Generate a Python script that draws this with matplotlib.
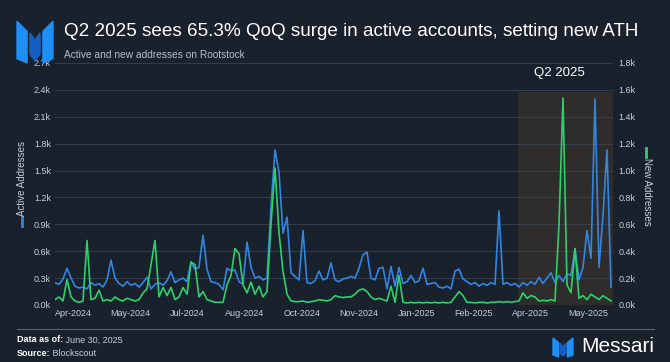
import numpy as np
import matplotlib
matplotlib.use("Agg")
import matplotlib.pyplot as plt
from matplotlib.patches import Polygon

plt.rcParams['font.family'] = ['Liberation Sans', 'DejaVu Sans']

# daily-ish samples (Active = left axis, New = right axis)
active = [250, 230, 290, 410, 300, 210, 190, 200, 180, 250,
          220, 240, 200, 280, 500, 300, 240, 210, 260, 220,
          240, 200, 250, 310, 180, 230, 250, 220, 270, 370,
          250, 280, 300, 260, 480, 400, 420, 780, 400, 260,
          250, 230, 170, 410, 380, 390, 260, 230, 700, 420,
          300, 320, 280, 300, 1100, 1730, 1480, 800, 980, 360,
          320, 280, 830, 250, 240, 270, 380, 280, 300, 470,
          280, 260, 290, 300, 320, 300, 410, 560, 590, 300,
          280, 410, 420, 180, 430, 210, 420, 240, 260, 330,
          250, 270, 410, 230, 240, 250, 200, 190, 210, 180,
          380, 400, 290, 260, 230, 250, 210, 240, 220, 250,
          230, 1050, 230, 250, 220, 240, 200, 250, 220, 260,
          230, 310, 240, 300, 360, 250, 330, 260, 350, 330,
          630, 280, 420, 830, 520, 2300, 420, 1000, 1730, 200]
new = [40, 60, 30, 190, 60, 30, 20, 30, 480, 40,
       50, 110, 30, 40, 30, 60, 40, 30, 50, 40,
       30, 40, 90, 120, 300, 480, 60, 130, 70, 130,
       40, 60, 130, 80, 320, 300, 60, 100, 40, 30,
       20, 20, 20, 150, 220, 420, 380, 150, 90, 170,
       80, 140, 60, 100, 600, 1020, 540, 250, 80, 30,
       25, 25, 30, 20, 25, 30, 40, 35, 30, 40,
       70, 60, 55, 60, 60, 80, 110, 120, 100, 60,
       40, 50, 40, 30, 140, 20, 220, 20, 15, 20,
       15, 20, 15, 20, 15, 20, 15, 20, 15, 20,
       60, 100, 70, 20, 20, 15, 20, 20, 15, 20,
       20, 25, 20, 25, 20, 25, 30, 90, 50, 70,
       60, 30, 35, 30, 40, 30, 600, 1540, 150, 90,
       420, 50, 70, 40, 80, 60, 40, 70, 50, 30]

month_labels = ['Apr-2024', 'May-2024', 'Jul-2024', 'Aug-2024', 'Oct-2024',
                'Nov-2024', 'Jan-2025', 'Feb-2025', 'Apr-2025', 'May-2025']
left_ticks = [0, 300, 600, 900, 1200, 1500, 1800, 2100, 2400, 2700]
right_ticks = [0, 200, 400, 600, 800, 1000, 1200, 1400, 1600, 1800]
q2_start = 115.75

BG = '#19212d'
BLUE = '#3385e0'
GREEN = '#2bd16b'
TXT = '#c9ced6'
W, H = 670, 362


def fx(px):
    return px / W


def fy(py):
    return 1 - py / H


fig = plt.figure(figsize=(6.7, 3.62), dpi=100, facecolor=BG)

ax = fig.add_axes([fx(55), fy(305), fx(558), 242 / H])
ax.set_facecolor('none')
x = np.arange(len(active))
ax.axvspan(q2_start, len(active) - 0.5, ymax=0.88, color='#a8692c', alpha=0.16, lw=0, zorder=0)
ax.plot(x, active, color=BLUE, lw=1.2, zorder=2)
ax.set_xlim(0, len(active) - 0.5)
ax.set_ylim(0, 2700)
ax.set_yticks(left_ticks)
ax.set_yticklabels([f'{v/1000:.1f}k' for v in left_ticks])
ax.set_xticks(np.arange(len(month_labels)) * 14.3 + 4.5)
ax.set_xticklabels(month_labels)
ax.yaxis.grid(True, color='#39424f', lw=0.6)
ax.set_axisbelow(True)
ax.tick_params(length=0, colors=TXT, labelsize=6.5, pad=3)
for s in ax.spines.values():
    s.set_visible(False)
ax.text(126, 2590, 'Q2 2025', ha='center', va='center', color='white', fontsize=9.5)

ax2 = ax.twinx()
ax2.plot(x, new, color=GREEN, lw=1.2)
ax2.set_ylim(0, 1800)
ax2.set_yticks(right_ticks)
ax2.set_yticklabels([f'{v/1000:.1f}k' for v in right_ticks])
ax2.tick_params(length=0, colors=TXT, labelsize=6.5, pad=4)
for s in ax2.spines.values():
    s.set_visible(False)

# axis titles with small colour keys
fig.text(fx(22), fy(178), 'Active Addresses', rotation=90, ha='center', va='center',
         color=TXT, fontsize=7)
fig.lines.append(plt.Line2D([fx(22), fx(22)], [fy(217), fy(226)], color=BLUE, lw=2,
                            transform=fig.transFigure))
fig.text(fx(647), fy(192), 'New Addresses', rotation=270, ha='center', va='center',
         color=TXT, fontsize=7)
fig.lines.append(plt.Line2D([fx(646), fx(646)], [fy(148), fy(157)], color=GREEN, lw=2,
                            transform=fig.transFigure))


def draw_logo(x0, y0, w, h):
    light, dark = '#1f8ef5', '#155fc4'
    shapes = [
        ([(0, 0.1), (0, 0.95), (0.28, 0.72), (0.28, 0)], light),
        ([(0.36, 0.2), (0.36, 0.68), (0.5, 0.52), (0.64, 0.68), (0.64, 0.2), (0.5, 0.05)], dark),
        ([(0.72, 0), (0.72, 0.72), (1, 0.95), (1, 0.1)], light),
    ]
    for pts, c in shapes:
        xy = [(fx(x0 + px * w), fy(y0 + h - py * h)) for px, py in pts]
        fig.patches.append(Polygon(xy, closed=True, color=c, transform=fig.transFigure))


draw_logo(17, 19, 36, 44)
fig.text(fx(64), fy(32), 'Q2 2025 sees 65.3% QoQ surge in active accounts, setting new ATH',
         color='white', fontsize=13.6, va='center', ha='left')
fig.text(fx(64), fy(55), 'Active and new addresses on Rootstock', color='#b8bec8',
         fontsize=7.3, va='center', ha='left')

# footer
fig.lines.append(plt.Line2D([fx(17), fx(654)], [fy(329), fy(329)], color='#5a6270', lw=0.8,
                            transform=fig.transFigure))
renderer = fig.canvas.get_renderer()
for label, value, ypx in [('Data as of:', ' June 30, 2025', 340), ('Source:', ' Blockscout', 354)]:
    t = fig.text(fx(17), fy(ypx), label, color='white', fontsize=6.5, fontweight='bold', va='center')
    bb = t.get_window_extent(renderer)
    fig.text(bb.x1 / fig.bbox.width, fy(ypx), value, color=TXT, fontsize=6.5, va='center')

draw_logo(553, 337, 20, 20)
fig.text(fx(654), fy(347), 'Messari', color='white', fontsize=15, ha='right', va='center')

fig.savefig('out.png', dpi=100, facecolor=BG)
